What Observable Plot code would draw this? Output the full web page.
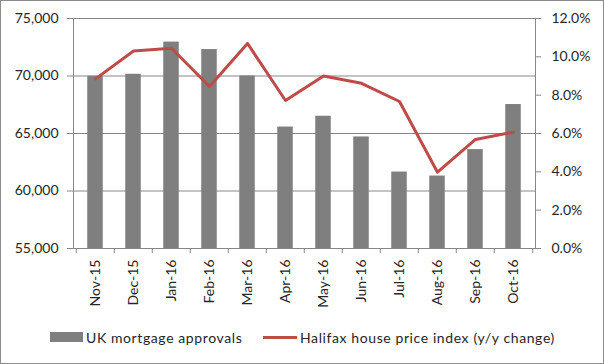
<!DOCTYPE html>
<html><head><meta charset="utf-8">
<script src="https://cdn.jsdelivr.net/npm/d3@7"></script>
<script src="https://cdn.jsdelivr.net/npm/@observablehq/plot@0.6"></script>
<style>
body{margin:0;background:#fff;}
#wrap{position:relative;width:604px;height:364px;box-sizing:border-box;border:1px solid #8c8c8c;font-family:Lato,sans-serif;color:#262626;overflow:hidden;}
#chart svg{display:block;}
.leg{position:absolute;top:327px;height:20px;line-height:20px;font-size:14px;letter-spacing:0.6px;white-space:nowrap;}
.sw{position:absolute;}
</style>
</head><body>
<div id="wrap"><div id="chart"></div>
<div class="sw" style="left:49px;top:331px;width:33px;height:10px;background:#7f7f7f"></div>
<div class="leg" style="left:85px">UK mortgage approvals</div>
<div class="sw" style="left:262px;top:335px;width:34px;height:3px;background:#be4b48"></div>
<div class="leg" style="left:299px">Halifax house price index (y/y change)</div>
</div>
<script>
const months = ["Nov-15","Dec-15","Jan-16","Feb-16","Mar-16","Apr-16","May-16","Jun-16","Jul-16","Aug-16","Sep-16","Oct-16"];
const approvals = [69980,70150,72950,72300,70000,65560,66500,64700,61650,61300,63600,67520];
const hpiChange = [8.85,10.3,10.45,8.45,10.7,7.72,9.0,8.62,7.67,3.98,5.69,6.07];
const leftTicks = [55000,60000,65000,70000,75000];
const rightTicks = [0,2,4,6,8,10,12];

const yMin = 55000, yMax = 75000, pMax = 12;
const pctToY = p => yMin + p / pMax * (yMax - yMin);
const rows = months.map((m, i) => ({month: m, approvals: approvals[i], hpi: hpiChange[i], hpiY: pctToY(hpiChange[i])}));

const W = 602, H = 320, ML = 72, MR = 68, MT = 17, MB = 73;
const bw = (W - ML - MR) / months.length;
const gray = "#878787";

const chart = Plot.plot({
  width: W, height: H,
  marginLeft: ML, marginRight: MR, marginTop: MT, marginBottom: MB,
  style: {fontFamily: "Lato, sans-serif", fontSize: "14px", color: "#262626", background: "transparent"},
  x: {type: "band", domain: months, padding: 0, axis: null},
  y: {domain: [yMin, yMax], axis: null},
  marks: [
    Plot.ruleY(leftTicks, {stroke: gray, strokeWidth: 1}),
    Plot.frame({anchor: "left", stroke: gray}),
    Plot.frame({anchor: "right", stroke: gray}),
    Plot.barY(rows, {x: "month", y1: yMin, y2: "approvals", fill: "#7f7f7f", insetLeft: (bw - 16) / 2, insetRight: (bw - 16) / 2}),
    Plot.line(rows, {x: "month", y: "hpiY", stroke: "#be4b48", strokeWidth: 3, strokeLinejoin: "round", strokeLinecap: "round"}),
    Plot.axisY(leftTicks, {anchor: "left", tickSize: 6, tickPadding: 9, stroke: gray, fill: "#262626", fontSize: 14, tickFormat: d3.format(","), label: null}),
    Plot.axisY(rightTicks.map(pctToY), {anchor: "right", tickSize: 5, tickPadding: 11, stroke: gray, fill: "#262626", fontSize: 14, tickFormat: (v, i) => rightTicks[i].toFixed(1) + "%", label: null}),
    Plot.axisX(months, {anchor: "bottom", tickSize: 5, dx: -bw / 2, stroke: gray, tickFormat: () => "", label: null}),
    Plot.axisX([months[months.length - 1]], {anchor: "bottom", tickSize: 5, dx: bw / 2, stroke: gray, tickFormat: () => "", label: null}),
    Plot.axisX(months, {anchor: "bottom", tickSize: 0, tickRotate: -90, tickPadding: 11, fill: "#262626", fontSize: 14, label: null})
  ]
});
document.getElementById("chart").appendChild(chart);
</script>
</body></html>
